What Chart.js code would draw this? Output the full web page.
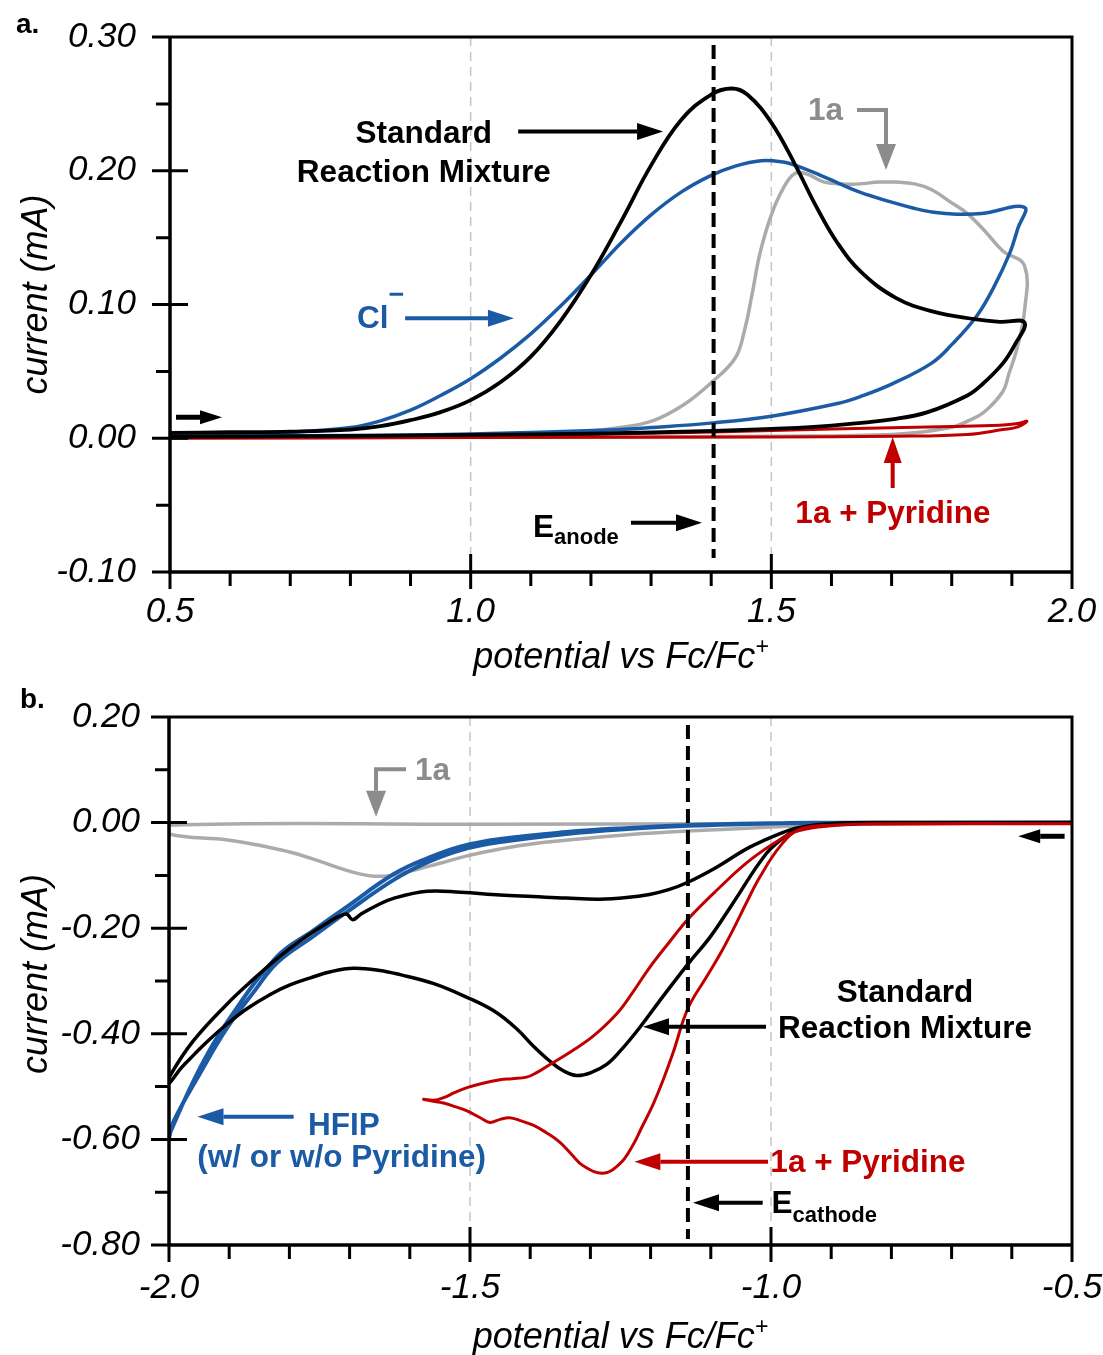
<!DOCTYPE html>
<html>
<head>
<meta charset="utf-8">
<script src="https://cdn.jsdelivr.net/npm/chart.js@4.4.1/dist/chart.umd.min.js"></script>
<style>
  html, body { margin: 0; padding: 0; background: #fff; }
  #wrap { position: relative; width: 1103px; height: 1355px; }
  canvas { position: absolute; left: 0; }
</style>
</head>
<body>
<div id="wrap">
  <canvas id="chartA" width="1103" height="680" style="top:0px"></canvas>
  <canvas id="chartB" width="1103" height="675" style="top:680px"></canvas>
</div>
<script>
// ---- panel a : oxidation scans (potential V, current mA) ----
const aStdV = [0.50,0.60,0.70,0.80,0.85,0.90,0.95,1.00,1.05,1.10,1.15,1.20,1.25,1.30,1.35,1.40,1.434,1.46,1.50,1.539,1.575,1.61,1.65,1.707,1.766,1.838,1.88,1.921,
               1.905,1.885,1.85,1.826,1.76,1.707,1.60,1.50,1.404,1.20,1.00,0.80,0.50];
const aStdI = [0.004,0.0045,0.005,0.0065,0.009,0.0135,0.0195,0.0285,0.042,0.061,0.088,0.122,0.162,0.204,0.238,0.257,0.2615,0.257,0.236,0.205,0.173,0.146,0.124,0.105,0.095,0.089,0.087,0.0865,
               0.070,0.056,0.040,0.032,0.0195,0.0145,0.0095,0.007,0.0055,0.0035,0.0025,0.0018,0.001];

const aClV = [0.50,0.60,0.70,0.80,0.85,0.90,0.95,1.00,1.05,1.10,1.15,1.20,1.25,1.30,1.35,1.40,1.44,1.483,1.52,1.54,1.58,1.61,1.647,1.70,1.737,1.77,1.808,1.85,1.921,
              1.91,1.897,1.87,1.841,1.80,1.766,1.70,1.647,1.61,1.50,1.403,1.30,1.23,1.00,0.80,0.50];
const aClI = [0.0023,0.003,0.0045,0.008,0.013,0.021,0.032,0.0445,0.060,0.078,0.099,0.122,0.146,0.167,0.184,0.1965,0.2035,0.2075,0.2065,0.204,0.197,0.191,0.184,0.1765,0.172,0.169,0.1675,0.168,0.1727,
              0.157,0.139,0.113,0.091,0.070,0.056,0.0405,0.031,0.026,0.0165,0.0115,0.008,0.0062,0.0032,0.002,0.0015];

const a1aV = [0.50,0.80,1.00,1.10,1.20,1.245,1.301,1.355,1.403,1.44,1.455,1.468,1.481,1.50,1.52,1.539,1.56,1.588,1.636,1.68,1.707,1.74,1.766,1.80,1.826,1.855,1.885,1.921,
              1.921,1.909,1.895,1.885,1.855,1.83,1.796,1.707,1.50,1.00,0.50];
const a1aI = [0.001,0.0012,0.0018,0.003,0.0055,0.0078,0.0128,0.0253,0.0427,0.060,0.080,0.1077,0.138,0.167,0.187,0.198,0.1975,0.1915,0.190,0.1915,0.1915,0.190,0.186,0.176,0.168,0.155,0.140,0.129,
              0.095,0.068,0.048,0.035,0.020,0.0135,0.0078,0.003,0.0015,0.0008,0.0005];

const aPyrV = [0.50,0.80,1.00,1.20,1.404,1.60,1.80,1.88,1.91,1.925, 1.91,1.885,1.826,1.707,1.50,1.00,0.50];
const aPyrI = [0.000,0.0008,0.0015,0.003,0.0047,0.007,0.0088,0.0098,0.011,0.0128, 0.0085,0.0065,0.0028,0.0015,0.001,0.0005,0.000];

const eAnode = 1.404;

// ---- panel b : reduction scans ----
const bStdV = [-0.50,-0.80,-0.90,-0.95,-0.975,-1.008,-1.064,-1.10,-1.138,-1.18,-1.218,-1.25,-1.273,-1.30,-1.323,-1.345,-1.367,-1.395,-1.423,-1.46,-1.505,-1.56,-1.616,-1.65,-1.693,-1.73,-1.765,-1.80,-1.831,-1.87,-1.903,-1.935,-1.958,-1.98,-2.00,
               -2.00,-1.96,-1.903,-1.86,-1.82,-1.78,-1.737,-1.706,-1.695,-1.682,-1.655,-1.626,-1.571,-1.515,-1.45,-1.395,-1.34,-1.285,-1.24,-1.202,-1.17,-1.138,-1.091,-1.036,-0.981,-0.953,-0.90,-0.50];
const bStdI = [0.000,0.000,-0.002,-0.010,-0.025,-0.059,-0.154,-0.215,-0.268,-0.330,-0.388,-0.432,-0.458,-0.474,-0.479,-0.470,-0.452,-0.423,-0.390,-0.357,-0.331,-0.305,-0.288,-0.280,-0.276,-0.282,-0.294,-0.308,-0.325,-0.352,-0.381,-0.413,-0.439,-0.465,-0.494,
               -0.483,-0.414,-0.343,-0.297,-0.257,-0.222,-0.190,-0.173,-0.184,-0.174,-0.157,-0.143,-0.130,-0.132,-0.137,-0.140,-0.143,-0.145,-0.142,-0.136,-0.127,-0.113,-0.085,-0.047,-0.019,-0.009,-0.002,0.000];

const bPyrV = [-0.50,-0.80,-0.90,-0.953,-0.985,-1.019,-1.04,-1.064,-1.085,-1.108,-1.138,-1.163,-1.18,-1.196,-1.215,-1.229,-1.251,-1.279,-1.312,-1.33,-1.351,-1.375,-1.395,-1.415,-1.434,-1.45,-1.467,-1.483,-1.505,-1.525,-1.544,-1.565,-1.577,
               -1.56,-1.544,-1.525,-1.505,-1.48,-1.45,-1.43,-1.406,-1.39,-1.367,-1.33,-1.296,-1.257,-1.23,-1.202,-1.17,-1.138,-1.091,-1.036,-0.981,-0.953,-0.90,-0.85,-0.50];
const bPyrI = [-0.002,-0.002,-0.005,-0.013,-0.045,-0.104,-0.150,-0.205,-0.250,-0.294,-0.352,-0.437,-0.490,-0.534,-0.578,-0.610,-0.646,-0.664,-0.650,-0.630,-0.605,-0.586,-0.573,-0.565,-0.559,-0.562,-0.568,-0.559,-0.546,-0.538,-0.531,-0.527,-0.524,
               -0.526,-0.521,-0.511,-0.502,-0.494,-0.487,-0.485,-0.482,-0.474,-0.458,-0.432,-0.405,-0.363,-0.322,-0.275,-0.228,-0.183,-0.129,-0.072,-0.029,-0.015,-0.006,-0.003,-0.002];

const bHfipV = [-0.50,-0.90,-0.981,-1.138,-1.25,-1.34,-1.45,-1.515,-1.57,-1.626,-1.709,-1.76,-1.82,-1.86,-1.903,-1.95,-1.992,-2.00,
                -2.00,-1.95,-1.903,-1.82,-1.76,-1.709,-1.626,-1.57,-1.515,-1.45,-1.34,-1.25,-1.138,-1.00,-0.50];
const bHfipI = [0.000,-0.0005,-0.001,-0.006,-0.013,-0.0215,-0.037,-0.052,-0.075,-0.108,-0.173,-0.215,-0.265,-0.322,-0.388,-0.478,-0.565,-0.597,
                -0.592,-0.468,-0.377,-0.253,-0.204,-0.163,-0.097,-0.067,-0.045,-0.031,-0.018,-0.011,-0.005,-0.001,0.000];

const b1aV = [-0.50,-1.00,-1.50,-2.00, -2.00,-1.903,-1.85,-1.792,-1.75,-1.709,-1.68,-1.659,-1.63,-1.599,-1.55,-1.505,-1.45,-1.395,-1.30,-1.229,-1.14,-1.064,-0.953,-0.85,-0.50];
const b1aI = [-0.001,-0.002,-0.003,-0.005, -0.0215,-0.033,-0.043,-0.058,-0.073,-0.089,-0.098,-0.1015,-0.100,-0.092,-0.077,-0.063,-0.050,-0.040,-0.029,-0.022,-0.016,-0.012,-0.006,-0.002,-0.001];

const eCathode = -1.138;

// colours / fonts
const BLACK = '#000000', BLUE = '#1b5ba6', RED = '#c00000', GRAY = '#ababab', GRAY_TXT = '#8c8c8c';
const FAM = "'Liberation Sans', Arial, Helvetica, sans-serif";
const BOLD = 'bold 31.5px ' + FAM;
const SUB = 'bold 22px ' + FAM;

function pts(xs, ys) { return xs.map((x, i) => ({ x: x, y: ys[i] })); }

function curve(xs, ys, color, width, order) {
    return { data: pts(xs, ys), showLine: true, borderColor: color, borderWidth: width,
             pointRadius: 0, tension: 0.4, fill: false, order: order, borderJoinStyle: 'round' };
}

function dashed(xs, ys, order) {
    return { data: pts(xs, ys), showLine: true, borderColor: BLACK, borderWidth: 4,
             borderDash: [14, 7], pointRadius: 0, tension: 0, fill: false, order: order };
}

// text with optional sub/superscript parts
function drawText(ctx, parts, x, y, align) {
    ctx.save();
    let total = 0;
    parts.forEach(p => { ctx.font = p.font; p.w = ctx.measureText(p.s).width; total += p.w; });
    let cx = align === 'center' ? x - total / 2 : x;
    parts.forEach(p => {
        ctx.font = p.font; ctx.fillStyle = p.color; ctx.textBaseline = 'alphabetic'; ctx.textAlign = 'left';
        ctx.fillText(p.s, cx, y + (p.dy || 0));
        cx += p.w;
    });
    ctx.restore();
}

function drawArrow(ctx, path, color, width, hl, hw) {
    const n = path.length;
    const [tx, ty] = path[n - 1], [px, py] = path[n - 2];
    const L = Math.hypot(tx - px, ty - py), ux = (tx - px) / L, uy = (ty - py) / L;
    const bx = tx - ux * hl, by = ty - uy * hl;
    ctx.save();
    ctx.strokeStyle = color; ctx.fillStyle = color; ctx.lineWidth = width; ctx.lineJoin = 'miter'; ctx.lineCap = 'butt';
    ctx.beginPath(); ctx.moveTo(path[0][0], path[0][1]);
    for (let i = 1; i < n - 1; i++) ctx.lineTo(path[i][0], path[i][1]);
    ctx.lineTo(bx, by); ctx.stroke();
    ctx.beginPath(); ctx.moveTo(tx, ty);
    ctx.lineTo(bx - uy * hw, by + ux * hw); ctx.lineTo(bx + uy * hw, by - ux * hw);
    ctx.closePath(); ctx.fill();
    ctx.restore();
}

// axes, ticks, gridlines, labels and arrows
function decor(cfg) {
    return {
        id: 'decor' + cfg.tag,
        beforeDatasetsDraw(chart) {
            const { ctx, chartArea: a, scales: { x } } = chart;
            ctx.save();
            ctx.strokeStyle = '#c6c6c6'; ctx.lineWidth = 1.5; ctx.setLineDash([9, 6]);
            cfg.grid.forEach(v => {
                const px = x.getPixelForValue(v);
                ctx.beginPath(); ctx.moveTo(px, a.top); ctx.lineTo(px, a.bottom); ctx.stroke();
            });
            ctx.restore();
        },
        afterDatasetsDraw(chart) {
            const { ctx, chartArea: a, scales: { x, y } } = chart;
            const P = (vx, vy) => [x.getPixelForValue(vx), y.getPixelForValue(vy)];
            ctx.save();
            ctx.strokeStyle = BLACK;
            ctx.lineWidth = 3;
            ctx.beginPath(); ctx.moveTo(a.left, a.top); ctx.lineTo(a.right, a.top); ctx.lineTo(a.right, a.bottom); ctx.stroke();
            ctx.lineWidth = 3.5;
            ctx.beginPath(); ctx.moveTo(a.left, a.top); ctx.lineTo(a.left, a.bottom); ctx.lineTo(a.right, a.bottom); ctx.stroke();

            ctx.lineWidth = 3;
            ctx.beginPath();
            y.ticks.forEach(t => {
                const py = y.getPixelForValue(t.value);
                ctx.moveTo(a.left - 18, py); ctx.lineTo(a.left, py);
                if (py > a.top + 2 && py < a.bottom - 2) { ctx.moveTo(a.left, py); ctx.lineTo(a.left + 18, py); }
            });
            cfg.yMinor.forEach(v => { const py = y.getPixelForValue(v); ctx.moveTo(a.left - 14, py); ctx.lineTo(a.left, py); });
            x.ticks.forEach(t => {
                const px = x.getPixelForValue(t.value);
                ctx.moveTo(px, a.bottom); ctx.lineTo(px, a.bottom + 17);
                if (px > a.left + 2 && px < a.right - 2) { ctx.moveTo(px, a.bottom); ctx.lineTo(px, a.bottom - 18); }
            });
            cfg.xMinor.forEach(v => { const px = x.getPixelForValue(v); ctx.moveTo(px, a.bottom); ctx.lineTo(px, a.bottom + 14); });
            ctx.stroke();
            ctx.restore();

            // axis titles
            drawText(ctx, [{ s: 'potential vs Fc/Fc', font: 'italic 36px ' + FAM, color: BLACK },
                           { s: '+', font: 'italic 23px ' + FAM, color: BLACK, dy: -14 }],
                     (a.left + a.right) / 2, a.bottom + cfg.xTitleOff, 'center');
            ctx.save();
            ctx.translate(47, (a.top + a.bottom) / 2 + cfg.yTitleOff);
            ctx.rotate(-Math.PI / 2);
            drawText(ctx, [{ s: 'current (mA)', font: 'italic 36px ' + FAM, color: BLACK }], 0, 0, 'center');
            ctx.restore();

            // panel letter
            drawText(ctx, [{ s: cfg.letter, font: 'bold 28px ' + FAM, color: BLACK }], cfg.letterAt[0], cfg.letterAt[1], 'left');

            cfg.texts.forEach(t => {
                const p = P(t.at[0], t.at[1]);
                drawText(ctx, t.parts, p[0], p[1], t.align);
            });
            cfg.arrows.forEach(r => {
                drawArrow(ctx, r.path.map(q => P(q[0], q[1])), r.color, r.width || 4, r.hl || 26, r.hw || 8.5);
            });
        }
    };
}

function yFix(w) { return s => { s.width = w; s.paddingTop = 0; s.paddingBottom = 0; }; }
function xFix(h) { return s => { s.height = h; s.paddingLeft = 0; s.paddingRight = 0; }; }

function makeChart(id, datasets, sc, cfg) {
    return new Chart(document.getElementById(id), {
        type: 'scatter',
        data: { datasets: datasets },
        options: {
            responsive: false, animation: false, devicePixelRatio: 1, events: [],
            layout: { padding: { top: 37, right: 31, left: 0, bottom: 0 } },
            plugins: { legend: { display: false }, tooltip: { enabled: false } },
            scales: {
                x: { type: 'linear', min: sc.xmin, max: sc.xmax,
                     grid: { display: false, drawTicks: false }, border: { display: false },
                     ticks: { stepSize: 0.5, padding: sc.xPad, color: BLACK, maxRotation: 0, autoSkip: false,
                              font: { family: FAM, size: 35, style: 'italic' },
                              callback: v => (Math.abs(v) < 1e-9 ? 0 : v).toFixed(1) },
                     afterFit: xFix(sc.xh) },
                y: { type: 'linear', min: sc.ymin, max: sc.ymax,
                     grid: { display: false, drawTicks: false }, border: { display: false },
                     ticks: { stepSize: sc.ystep, padding: sc.yPad, color: BLACK, autoSkip: false,
                              font: { family: FAM, size: 35, style: 'italic' },
                              callback: v => (Math.abs(v) < 1e-9 ? 0 : v).toFixed(2) },
                     afterFit: yFix(sc.yw) }
            }
        },
        plugins: [decor(cfg)]
    });
}

// panel a
makeChart('chartA', [
    curve(a1aV, a1aI, GRAY, 3.5, 5),
    curve(aPyrV, aPyrI, RED, 3, 4),
    curve(aClV, aClI, BLUE, 3.5, 3),
    curve(aStdV, aStdI, BLACK, 3.8, 2),
    dashed([eAnode, eAnode], [0.294, -0.0895], 1)
], { xmin: 0.5, xmax: 2.0, ymin: -0.10, ymax: 0.30, ystep: 0.1, xh: 108, yw: 170, xPad: 19, yPad: 34 }, {
    tag: 'A', letter: 'a.', letterAt: [16, 33], xTitleOff: 96, yTitleOff: -10,
    grid: [1.0, 1.5],
    yMinor: [-0.05, 0.05, 0.15, 0.25],
    xMinor: [0.6, 0.7, 0.8, 0.9, 1.1, 1.2, 1.3, 1.4, 1.6, 1.7, 1.8, 1.9],
    texts: [
        { at: [0.922, 0.2207], align: 'center', parts: [{ s: 'Standard', font: BOLD, color: BLACK }] },
        { at: [0.922, 0.1916], align: 'center', parts: [{ s: 'Reaction Mixture', font: BOLD, color: BLACK }] },
        { at: [1.561, 0.238], align: 'left', parts: [{ s: '1a', font: BOLD, color: GRAY_TXT }] },
        { at: [0.811, 0.0824], align: 'left', parts: [{ s: 'Cl', font: BOLD, color: BLUE },
                                                      { s: '\u2212', font: 'bold 27px ' + FAM, color: BLUE, dy: -25 }] },
        { at: [1.1037, -0.0738], align: 'left', parts: [{ s: 'E', font: BOLD, color: BLACK },
                                                        { s: 'anode', font: SUB, color: BLACK, dy: 7 }] },
        { at: [1.7023, -0.0634], align: 'center', parts: [{ s: '1a + Pyridine', font: BOLD, color: RED }] }
    ],
    arrows: [
        { path: [[1.079, 0.2293], [1.320, 0.2293]], color: BLACK },
        { path: [[1.6425, 0.2454], [1.6907, 0.2454], [1.6907, 0.2006]], color: GRAY_TXT, hw: 10 },
        { path: [[0.891, 0.0897], [1.072, 0.0897]], color: BLUE },
        { path: [[0.510, 0.0157], [0.5865, 0.0157]], color: BLACK, width: 5, hl: 22, hw: 7 },
        { path: [[1.2666, -0.0631], [1.3847, -0.0631]], color: BLACK },
        { path: [[1.7018, -0.0372], [1.7018, 0.0009]], color: RED, hw: 9 }
    ]
});

// panel b
makeChart('chartB', [
    curve(b1aV, b1aI, GRAY, 3.5, 5),
    curve(bHfipV, bHfipI, BLUE, 4, 4),
    curve(bStdV, bStdI, BLACK, 3.5, 3),
    curve(bPyrV, bPyrI, RED, 3, 2),
    dashed([eCathode, eCathode], [0.1848, -0.7886], 1)
], { xmin: -2.0, xmax: -0.5, ymin: -0.80, ymax: 0.20, ystep: 0.2, xh: 110, yw: 169, xPad: 22, yPad: 29 }, {
    tag: 'B', letter: 'b.', letterAt: [20, 28], xTitleOff: 103, yTitleOff: -7,
    grid: [-1.5, -1.0],
    yMinor: [-0.7, -0.5, -0.3, -0.1, 0.1],
    xMinor: [-1.9, -1.8, -1.7, -1.6, -1.4, -1.3, -1.2, -1.1, -0.9, -0.8, -0.7, -0.6],
    texts: [
        { at: [-1.5914, 0.0807], align: 'left', parts: [{ s: '1a', font: BOLD, color: GRAY_TXT }] },
        { at: [-0.7774, -0.3398], align: 'center', parts: [{ s: 'Standard', font: BOLD, color: BLACK }] },
        { at: [-0.7774, -0.408], align: 'center', parts: [{ s: 'Reaction Mixture', font: BOLD, color: BLACK }] },
        { at: [-1.769, -0.5909], align: 'left', parts: [{ s: 'HFIP', font: BOLD, color: BLUE }] },
        { at: [-1.7131, -0.6523], align: 'center', parts: [{ s: '(w/ or w/o Pyridine)', font: BOLD, color: BLUE }] },
        { at: [-0.8389, -0.6617], align: 'center', parts: [{ s: '1a + Pyridine', font: BOLD, color: RED }] },
        { at: [-0.999, -0.7394], align: 'left', parts: [{ s: 'E', font: BOLD, color: BLACK },
                                                       { s: 'cathode', font: SUB, color: BLACK, dy: 9 }] }
    ],
    arrows: [
        { path: [[-1.6063, 0.1009], [-1.6561, 0.1009], [-1.6561, 0.0112]], color: GRAY_TXT, hw: 10 },
        { path: [[-1.0083, -0.3866], [-1.2126, -0.3866]], color: BLACK },
        { path: [[-1.7929, -0.557], [-1.9527, -0.557]], color: BLUE },
        { path: [[-1.0050, -0.6422], [-1.2269, -0.6422]], color: RED },
        { path: [[-1.0138, -0.7199], [-1.1296, -0.7199]], color: BLACK },
        { path: [[-0.5123, -0.0259], [-0.5894, -0.0259]], color: BLACK, width: 5, hl: 22, hw: 7 }
    ]
});
</script>
</body>
</html>
